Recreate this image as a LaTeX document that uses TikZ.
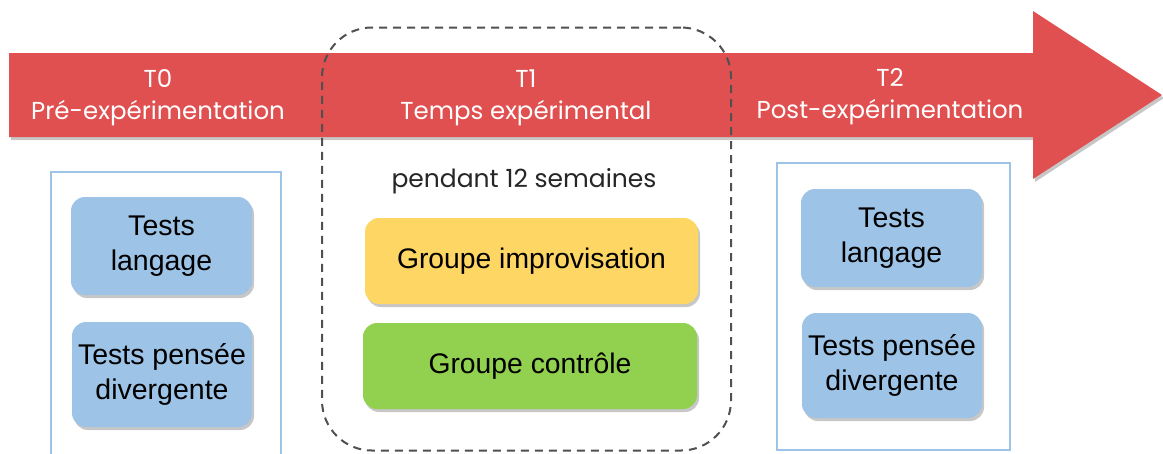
\documentclass[tikz,border=0pt]{standalone}
\usepackage{fontspec}
\setmainfont{Liberation Sans}
\newfontfamily\gothic{Poppins}
\usetikzlibrary{shadows}
\definecolor{bandred}{RGB}{224,80,80}
\definecolor{testblue}{RGB}{157,195,230}
\definecolor{frameblue}{RGB}{157,195,230}
\definecolor{impyellow}{RGB}{253,214,100}
\definecolor{ctrlgreen}{RGB}{146,208,80}
\definecolor{dashgray}{RGB}{80,80,80}
\begin{document}
\begin{tikzpicture}[x=1pt,y=-1pt,
  shad/.style={drop shadow={shadow xshift=2pt,shadow yshift=-3pt,opacity=0.22,fill=black}},
  testbox/.style={shad,rounded corners=14pt,fill=testblue,inner sep=0pt,align=center,
    font=\fontsize{28.5}{35}\selectfont},
  groupbox/.style={shad,rounded corners=14pt,inner sep=0pt,align=center,
    minimum width=333pt,minimum height=86pt,font=\fontsize{28.3}{34}\selectfont},
  frame/.style={draw=frameblue,line width=1.5pt,inner sep=0pt},
  bandtext/.style={text=white,anchor=base,inner sep=0pt,font=\gothic\fontsize{24.5}{28}\selectfont},
]
\clip (0,0) rectangle (1163,453);
\fill[white] (0,0) rectangle (1163,453);
% timeline arrow
\path[fill=bandred,shad] (9,53) -- (1033,53) -- (1033,11) -- (1162,95) -- (1033,179)
  -- (1033,137) -- (9,137) -- cycle;
% labels in band
\node[bandtext] (t0) at (158,87) {T0};
\node[bandtext] (t0l) at (158,119) {Pré-expérimentation};
\node[bandtext] (t1) at (526,87) {T1};
\node[bandtext] (t1l) at (526,119) {Temps expérimental};
\node[bandtext] (t2) at (890,86) {T2};
\node[bandtext] (t2l) at (890,118) {Post-expérimentation};
% frames
\node[frame,minimum width=230pt,minimum height=300pt] (fl) at (166,322) {};
\node[frame,minimum width=233pt,minimum height=287pt] (fr) at (893.5,306.5) {};
% dashed period
\node[draw=dashgray,line width=2pt,dash pattern=on 8pt off 6pt,rounded corners=50pt,
  minimum width=409pt,minimum height=423pt,inner sep=0pt] (per) at (526.5,239) {};
\node[anchor=base,inner sep=0pt,text=black!85,font=\gothic\fontsize{25}{30}\selectfont]
  (dur) at (524,187) {pendant 12 semaines};
% group boxes
\node[groupbox,fill=impyellow] (imp) at (531.5,261) {Groupe improvisation};
\node[groupbox,fill=ctrlgreen,minimum width=334pt] (ctrl) at (530,366) {Groupe contrôle};
% tests left
\node[testbox,minimum width=181pt,minimum height=98pt] (l1) at (161.5,246) {Tests\\langage};
\node[testbox,minimum width=180pt,minimum height=105pt] (l2) at (162,374.5) {Tests pensée\\divergente};
% tests right
\node[testbox,minimum width=181pt,minimum height=98pt] (r1) at (891.5,238) {Tests\\langage};
\node[testbox,minimum width=180pt,minimum height=105pt] (r2) at (892,365.5) {Tests pensée\\divergente};
\end{tikzpicture}
\end{document}
